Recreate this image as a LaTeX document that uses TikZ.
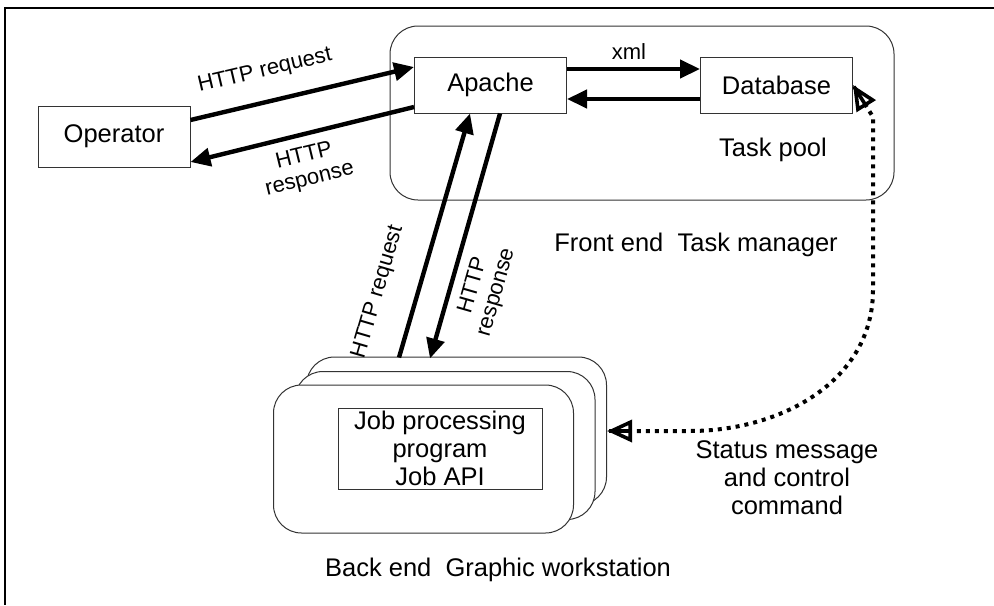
\documentclass[tikz,border=0pt]{standalone}
\usepackage{fontspec}
\setmainfont{Liberation Sans}
\usetikzlibrary{arrows.meta,calc}
\begin{document}
\begin{tikzpicture}[x=0.5pt,y=-0.5pt,
    box/.style={draw=black!80,line width=0.5pt,minimum width=76pt,minimum height=28pt},
    station/.style={draw=black!80,line width=0.5pt,fill=white,rounded corners=14pt,
                    minimum width=150pt,minimum height=74pt},
    flow/.style={line width=2.2pt,-{Triangle[length=10pt,width=9pt]}},
    status/.style={line width=2pt,dash pattern=on 2pt off 2.5pt,shorten <=11pt,shorten >=11pt},
    openhead/.style={line width=1.8pt,-{Triangle[open,length=12.5pt,width=11pt]}},
    lbl/.style={font=\fontsize{11}{12}\selectfont,align=center,inner sep=0pt}]
\tikzset{every node/.style={font=\fontsize{12.75}{14}\selectfont,align=center}}
%\tikzset{every node/.style={font=\sffamily\large}}
\useasboundingbox (0,0) rectangle (994,605);
\draw[line width=1pt] (994,8) -- (5,8) -- (5,605);

% front end
\node[draw=black!80,line width=0.5pt,rounded corners=14pt,
      minimum width=252pt,minimum height=87pt] (tm) at (642,113) {};
\node[box] (apache) at (490.5,85) {Apache};
\node[box] (db) at (776.5,85) {Database};
\node[box,minimum height=30.5pt] (op) at (114,136.5) {Operator};
\node (pool) at (773,150) {Task pool};
\node (front) at (696,245) {Front end\ \ Task manager};

% back end
\node[station] (wsb) at (456.5,431) {};
\node[station] (wsm) at (445,445.5) {};
\node[station] (ws) at (423.5,459) {};
\node[box,minimum width=102pt,minimum height=40.5pt,inner ysep=0.5pt] (job) at (440,448.5)
    {Job processing\\program\\Job API};
\node (back) at (498,570) {Back end\ \ Graphic workstation};
\node (msg) at (787,478) {Status message\\and control\\command};

\draw[flow] ($(op.east)+(0,-16.5)$) -- ($(apache.west)+(0,-18)$);
\draw[flow] ($(apache.west)+(0,22)$) -- ($(op.east)+(0,25.5)$);
\draw[flow] ($(apache.east)+(0,-16)$) -- ($(db.west)+(0,-16)$);
\draw[flow] ($(db.west)+(0,14)$) -- ($(apache.east)+(0,14)$);
\draw[flow] ($(wsb.north)+(-57.5,1)$) -- ($(apache.south)+(-20.5,0)$);
\draw[flow] ($(apache.south)+(9.5,0)$) -- ($(wsb.north)+(-26.5,2)$);

\node[lbl,rotate=13.3] (req1) at (265,71) {HTTP request};
\node[lbl,rotate=13.7] (resp1) at (307,168) {HTTP\\response};
\node[lbl] (xml) at (629,52) {xml};
\node[lbl,rotate=73.7] (req2) at (378,292) {HTTP request};
\node[lbl,rotate=74] (resp2) at (485,289) {HTTP\\response};

\coordinate (c1) at (873,117);
\coordinate (c2) at (873,290);
\coordinate (c3) at (690,431);
\draw[status] (db.east) -- (c1) -- (c2) .. controls (873,381) and (781,431) .. (c3) -- (wsb.east);
\draw[openhead] ($(db.east)!1pt!(c1)$) -- (db.east);
\draw[openhead] ($(wsb.east)!1pt!(c3)$) -- (wsb.east);
\end{tikzpicture}
\end{document}
